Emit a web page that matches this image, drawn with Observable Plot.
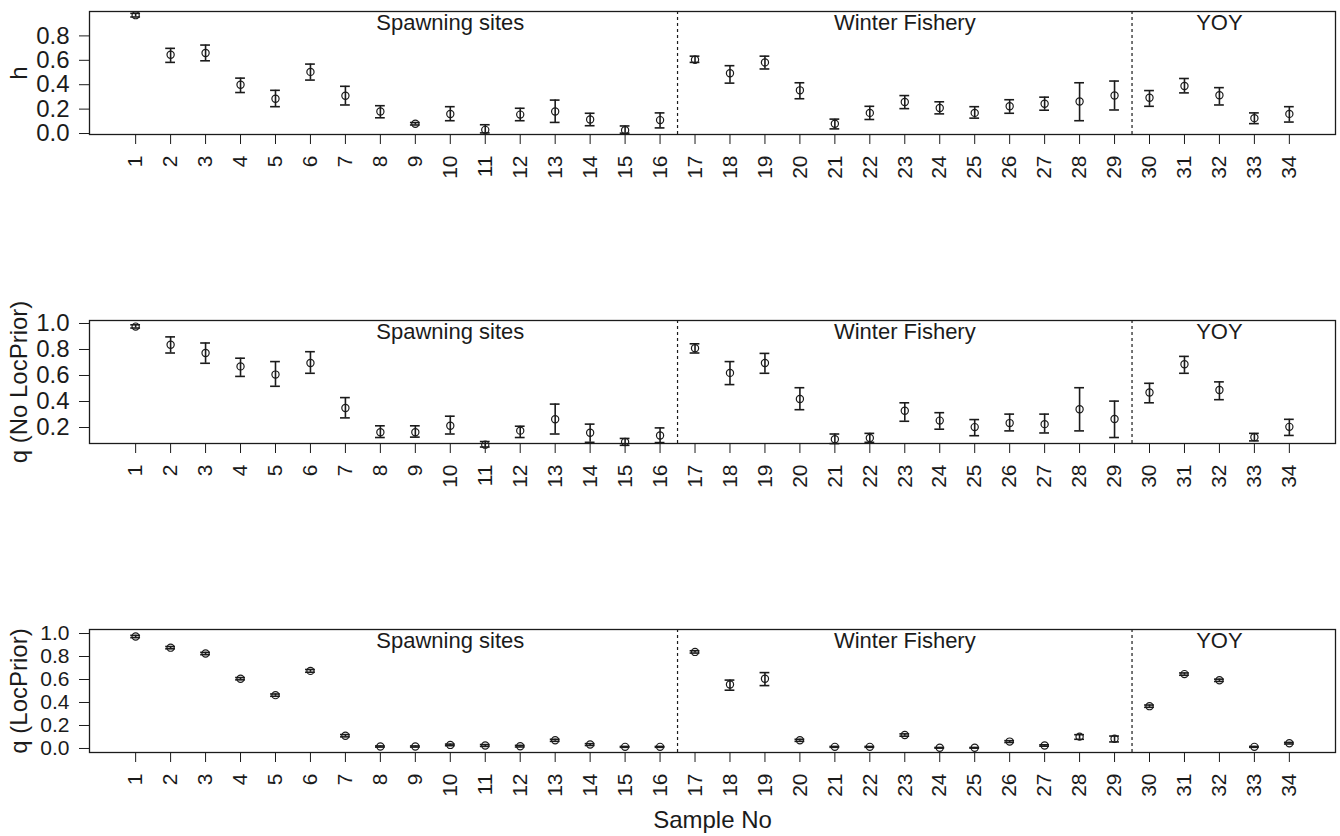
<!DOCTYPE html>
<html><head><meta charset="utf-8">
<script src="https://cdn.jsdelivr.net/npm/d3@7"></script>
<script src="https://cdn.jsdelivr.net/npm/@observablehq/plot@0.6"></script>
<style>
body{margin:0;background:#fff;}
#wrap{position:relative;width:1340px;height:836px;font-family:"Liberation Sans",Arial,sans-serif;}
#wrap svg{position:absolute;left:0;overflow:visible;}
</style></head><body><div id="wrap"></div>
<script>
const samples = [1,2,3,4,5,6,7,8,9,10,11,12,13,14,15,16,17,18,19,20,21,22,23,24,25,26,27,28,29,30,31,32,33,34];
const groupNames = ["Spawning sites","Winter Fishery","YOY"];
const groupCenters = [10, 23, 32];
const groupBreaks = [16.5, 29.5];
const xTitle = ["Sample No"];

const hMean = [0.97,0.645,0.66,0.40,0.285,0.505,0.31,0.18,0.08,0.16,0.03,0.155,0.18,0.115,0.027,0.11, 0.605,0.494,0.583,0.354,0.08,0.169,0.258,0.209,0.169,0.223,0.244,0.263,0.311, 0.293,0.389,0.314,0.126,0.161];
const hLo = [0.955,0.583,0.596,0.336,0.22,0.438,0.234,0.129,0.07,0.105,0.005,0.105,0.091,0.064,0.003,0.046, 0.583,0.413,0.529,0.285,0.038,0.115,0.204,0.161,0.126,0.166,0.191,0.105,0.193, 0.223,0.333,0.234,0.081,0.094];
const hHi = [0.985,0.698,0.725,0.454,0.354,0.569,0.387,0.228,0.09,0.22,0.072,0.207,0.274,0.166,0.062,0.169, 0.634,0.556,0.634,0.416,0.118,0.223,0.311,0.26,0.22,0.277,0.298,0.416,0.43, 0.352,0.451,0.376,0.169,0.22];

const q1Mean = [0.976,0.836,0.773,0.67,0.607,0.696,0.35,0.163,0.163,0.213,0.068,0.176,0.263,0.16,0.089,0.139, 0.81,0.62,0.696,0.419,0.11,0.12,0.329,0.253,0.203,0.234,0.226,0.34,0.266, 0.469,0.686,0.488,0.126,0.205];
const q1Lo = [0.965,0.773,0.694,0.593,0.517,0.617,0.274,0.123,0.126,0.15,0.05,0.123,0.15,0.086,0.063,0.084, 0.773,0.53,0.617,0.337,0.076,0.086,0.248,0.187,0.137,0.174,0.158,0.174,0.123, 0.39,0.617,0.414,0.097,0.139];
const q1Hi = [0.99,0.897,0.85,0.733,0.707,0.783,0.43,0.213,0.213,0.287,0.092,0.21,0.38,0.226,0.116,0.197, 0.844,0.707,0.77,0.506,0.15,0.155,0.39,0.314,0.261,0.303,0.303,0.506,0.403, 0.54,0.747,0.551,0.155,0.263];

const q2Mean = [0.974,0.877,0.826,0.607,0.464,0.675,0.111,0.017,0.017,0.031,0.026,0.02,0.071,0.034,0.014,0.014, 0.84,0.556,0.607,0.071,0.014,0.014,0.117,0.006,0.006,0.06,0.026,0.103,0.085, 0.368,0.647,0.593,0.014,0.046];
const q2Lo = [0.964,0.867,0.816,0.597,0.454,0.663,0.101,0.012,0.012,0.024,0.018,0.013,0.062,0.026,0.01,0.01, 0.83,0.507,0.547,0.062,0.01,0.01,0.107,0.003,0.003,0.052,0.02,0.08,0.057, 0.358,0.637,0.583,0.01,0.039];
const q2Hi = [0.984,0.887,0.836,0.617,0.474,0.687,0.121,0.022,0.022,0.038,0.034,0.027,0.08,0.042,0.018,0.018, 0.85,0.595,0.66,0.08,0.018,0.018,0.127,0.009,0.009,0.068,0.032,0.12,0.108, 0.378,0.657,0.603,0.018,0.053];

const ink = "#1b1b1b";
const capHalf = 0.14;

function panel({mean, lo, hi, yDomain, yTicks, label, top, showTitle, yFont}) {
  const data = samples.map((s, i) => ({s, m: mean[i], lo: lo[i], hi: hi[i]}));
  const groups = groupNames.map((g, i) => ({g, x: groupCenters[i]}));
  const marks = [
    Plot.frame({stroke: ink, strokeWidth: 1.3}),
    Plot.ruleX(groupBreaks, {stroke: ink, strokeWidth: 1.2, strokeDasharray: "3,3"}),
    Plot.text(groups, {x: "x", text: "g", frameAnchor: "top", lineAnchor: "top", dy: 3, fontSize: 22, fill: ink}),
    Plot.ruleX(data, {x: "s", y1: "lo", y2: "hi", stroke: ink, strokeWidth: 1.6}),
    Plot.ruleY(data, {y: "lo", x1: d => d.s - capHalf, x2: d => d.s + capHalf, stroke: ink, strokeWidth: 1.6}),
    Plot.ruleY(data, {y: "hi", x1: d => d.s - capHalf, x2: d => d.s + capHalf, stroke: ink, strokeWidth: 1.6}),
    Plot.dot(data, {x: "s", y: "m", r: 3.6, stroke: ink, strokeWidth: 1.2, fill: "none"}),
    Plot.axisY({ticks: yTicks, tickFormat: d3.format(".1f"), tickSize: 10, tickPadding: 10, fontSize: yFont,
      label: null, stroke: ink, fill: ink}),
    Plot.text([label], {frameAnchor: "left", rotate: -90, lineAnchor: "top", textAnchor: "middle",
      dx: -80, fontSize: 24, fill: ink}),
    Plot.axisX({ticks: samples, tickFormat: d => String(d), tickSize: 10, tickPadding: 11, tickRotate: -90,
      textAnchor: "end", lineAnchor: "middle", fontSize: 21, stroke: ink, fill: ink, label: null})
  ];
  if (showTitle) {
    marks.push(Plot.text(xTitle, {frameAnchor: "bottom", lineAnchor: "middle", dy: 68, fontSize: 24, fill: ink}));
  }
  const chart = Plot.plot({
    width: 1340,
    height: 209,
    marginTop: 11,
    marginBottom: 75,
    marginLeft: 89,
    marginRight: 5,
    style: {background: "none", overflow: "visible", fontFamily: "Liberation Sans, Arial, sans-serif", color: ink},
    x: {domain: [-0.32, 35.32]},
    y: {domain: yDomain},
    marks
  });
  chart.style.top = top + "px";
  document.getElementById("wrap").appendChild(chart);
}

panel({mean: hMean, lo: hLo, hi: hHi, yDomain: [-0.008, 1.0], yTicks: [0, 0.2, 0.4, 0.6, 0.8], label: "h", top: 0, showTitle: false, yFont: 24});
panel({mean: q1Mean, lo: q1Lo, hi: q1Hi, yDomain: [0.077, 1.023], yTicks: [0.2, 0.4, 0.6, 0.8, 1.0], label: "q (No LocPrior)", top: 309, showTitle: false, yFont: 24});
panel({mean: q2Mean, lo: q2Lo, hi: q2Hi, yDomain: [-0.035, 1.035], yTicks: [0, 0.2, 0.4, 0.6, 0.8, 1.0], label: "q (LocPrior)", top: 618, showTitle: true, yFont: 21});
</script></body></html>
